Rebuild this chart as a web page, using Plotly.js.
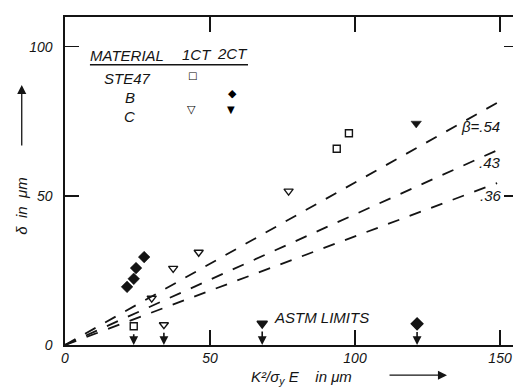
<!DOCTYPE html>
<html><head><meta charset="utf-8">
<script src="https://cdn.plot.ly/plotly-3.0.1.min.js"></script>
<style>html,body{margin:0;padding:0;background:#fff;overflow:hidden}#plot{width:520px;height:388px}</style>
</head><body><div id="plot"></div>
<script>
// ---- data ----
const xTickVals = [0, 50, 100, 150];
const yTickVals = [0, 50, 100];

// STE47, 1CT (open squares)
const steX = [93.7, 97.9];
const steY = [65.8, 71.0];
// B, 2CT (filled diamonds)
const bX = [21.4, 23.7, 24.5, 27.3];
const bY = [19.5, 22.2, 25.8, 29.5];
// C, 1CT (open triangles)
const c1X = [29.9, 37.3, 46.1, 77.1];
const c1Y = [15.7, 25.7, 31.1, 51.6];
// C, 2CT (filled triangles)
const c2X = [121.1];
const c2Y = [74.3];

// ASTM limits (markers with arrows to the axis)
const astmX = [23.7, 34.1, 68.0, 121.4];
const astmY = [6.3, 6.8, 7.2, 7.1];
const astmSymbols = ['square-open', 'triangle-down-open', 'triangle-down', 'diamond'];

// beta lines delta = beta * K^2/(sigma_y E)
const betaLabels = ['\u03b2=.54', '.43', '.36'];
const lineX = [0, 149];
const beta54Y = [0, 81.2];
const beta43Y = [0, 65.3];
const beta36Y = [0, 54.3];

// legend table
const legendHeader = ['MATERIAL', '1CT', '2CT'];
const legendRows = ['STE47', 'B', 'C'];

const INK = '#141414';
const FONT = 'Liberation Sans, Arial, sans-serif';
const f = (s) => ({family: FONT, size: s, color: INK, style: 'italic'});

const dashLine = {color: INK, width: 1.8, dash: '12px,11px'};
const traces = [
  {x: lineX, y: beta54Y, mode: 'lines', line: dashLine, name: betaLabels[0]},
  {x: lineX, y: beta43Y, mode: 'lines', line: dashLine, name: betaLabels[1]},
  {x: lineX, y: beta36Y, mode: 'lines', line: dashLine, name: betaLabels[2]},
  {x: steX, y: steY, mode: 'markers', name: 'STE47 1CT',
   marker: {symbol: 'square-open', size: 7, color: INK, opacity: 1, line: {width: 1.4, color: INK}}},
  {x: bX, y: bY, mode: 'markers', name: 'B 2CT',
   marker: {symbol: 'diamond', size: 9, color: INK, opacity: 1, line: {width: 0.5, color: INK}}},
  {x: c1X, y: c1Y, mode: 'markers', name: 'C 1CT',
   marker: {symbol: 'triangle-down-open', size: 8, color: INK, opacity: 1, line: {width: 1.4, color: INK}}},
  {x: c2X, y: c2Y, mode: 'markers', name: 'C 2CT',
   marker: {symbol: 'triangle-down', size: 9, color: INK, opacity: 1, line: {width: 0.5, color: INK}}},
  {x: astmX, y: astmY, mode: 'markers', name: 'ASTM limits',
   marker: {symbol: astmSymbols, size: [7, 8, 9, 9], color: INK, opacity: 1, line: {width: 1.4, color: INK}}}
];

const annotations = [];
const A = (o) => annotations.push(Object.assign({xanchor: 'center', yanchor: 'middle', showarrow: false}, o));
// arrows from ASTM markers down to the axis
astmX.forEach((x, i) => {
  A({x: x, y: 0, ax: x, ay: astmY[i] - 2.2, xref: 'x', yref: 'y', axref: 'x', ayref: 'y',
    text: '', showarrow: true, arrowhead: 2, arrowsize: 1.1, arrowwidth: 1.6, arrowcolor: INK,
    standoff: 0, startstandoff: 0});
});
A({x: 88.6, y: 9.3, xref: 'x', yref: 'y', text: 'ASTM LIMITS', font: f(15)});
// beta labels
const betaLabelPos = [[143.4, 73.2], [146.6, 61.1], [146.9, 50.0]];
betaLabels.forEach((t, i) => A({x: betaLabelPos[i][0], y: betaLabelPos[i][1], xref: 'x', yref: 'y',
  text: t, font: f(15)}));
// legend table
const headerPos = [[21.3, 97.0], [45.4, 97.3], [57.8, 97.7]];
legendHeader.forEach((t, i) => A({x: headerPos[i][0], y: headerPos[i][1], xref: 'x', yref: 'y',
  text: t, font: f(15)}));
const rowPos = [[21.7, 89.3], [22.4, 82.9], [22.4, 76.8]];
legendRows.forEach((t, i) => A({x: rowPos[i][0], y: rowPos[i][1], xref: 'x', yref: 'y',
  text: t, font: f(15)}));
const glyphs = [['\u25a1', 44.0, 90.3, 10], ['\u25c6', 57.8, 84.5, 11], ['\u25bd', 43.7, 78.9, 11], ['\u25bc', 57.2, 79.1, 10]];
glyphs.forEach(g => A({x: g[1], y: g[2], xref: 'x', yref: 'y', text: g[0],
  font: {family: 'DejaVu Sans', size: g[3], color: '#000', weight: 'bold'}}));
// axis titles and arrows
A({x: -0.0955, y: 0.424, xref: 'paper', yref: 'paper', text: '\u03b4\u00a0\u00a0in\u00a0\u00a0\u03bcm',
  textangle: -90, font: f(15)});
A({x: -0.0955, y: 0.793, xref: 'paper', yref: 'paper', ax: 0, ay: 62, text: '', showarrow: true,
  arrowhead: 2, arrowsize: 1.4, arrowwidth: 1.3, arrowcolor: INK, standoff: 0});
A({x: (301 - 65) / 2.9, y: -0.098, xref: 'x', yref: 'paper', text: 'K\u00b2/\u03c3<sub>y</sub> E\u00a0\u00a0\u00a0\u00a0in\u00a0\u03bcm',
  font: f(15)});
A({x: (447 - 65) / 2.9, y: -0.092, xref: 'x', yref: 'paper', ax: -59, ay: 0, text: '', showarrow: true,
  arrowhead: 2, arrowsize: 1.4, arrowwidth: 1.3, arrowcolor: INK, standoff: 0});

const layout = {
  width: 520, height: 388,
  margin: {l: 65, r: 2, t: 17, b: 43},
  paper_bgcolor: '#fff', plot_bgcolor: '#fff',
  showlegend: false,
  font: f(14),
  xaxis: {range: [0, 156.2], tickvals: xTickVals, ticktext: xTickVals.map(String), ticks: 'inside', ticklen: 15,
    tickwidth: 1.3, tickcolor: INK, showline: true, linecolor: INK, linewidth: 1.6, mirror: 'all',
    showgrid: false, zeroline: false, tickfont: f(14)},
  yaxis: {range: [0, 110], tickvals: yTickVals, ticktext: yTickVals.map(String), ticks: 'inside', ticklen: 14,
    tickwidth: 1.3, tickcolor: INK, showline: true, linecolor: INK, linewidth: 1.6, mirror: 'ticks',
    showgrid: false, zeroline: false, tickfont: f(14), ticklabelstandoff: 8},
  shapes: [{type: 'line', xref: 'x', yref: 'y', x0: 8.6, x1: 63.1, y0: 94.0, y1: 94.0, line: {color: INK, width: 1.5}}],
  annotations: annotations
};
Plotly.newPlot('plot', traces, layout, {staticPlot: true, displayModeBar: false});
</script></body></html>
